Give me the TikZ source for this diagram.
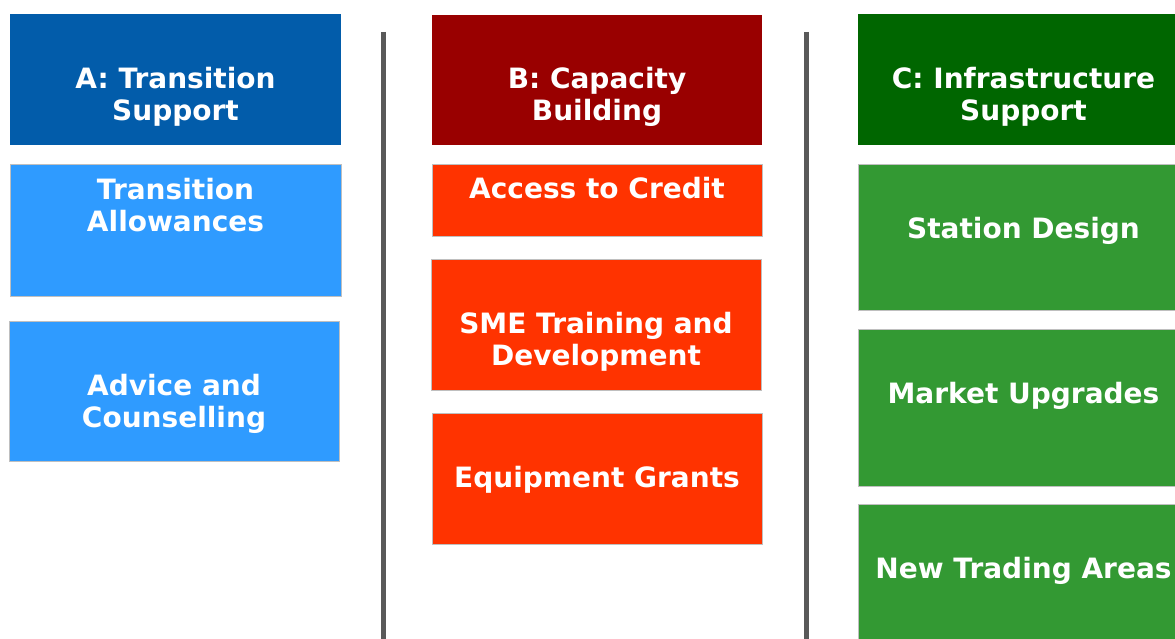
\documentclass[tikz,border=0pt]{standalone}
\usepackage{fontspec}
\setmainfont{DejaVu Sans}
\definecolor{hdrA}{HTML}{025CAA}
\definecolor{subA}{HTML}{2F9BFF}
\definecolor{hdrB}{HTML}{990000}
\definecolor{subB}{HTML}{FF3300}
\definecolor{hdrC}{HTML}{006600}
\definecolor{subC}{HTML}{339933}
\definecolor{divider}{HTML}{595959}
\tikzset{
  panel/.style={rectangle, anchor=north west, inner sep=0pt, outer sep=0pt},
  header/.style={panel},
  item/.style={panel, draw=black!25, line width=0.5pt},
  label/.style={text=white, align=center, inner sep=0pt,
    font=\bfseries\fontsize{28}{32}\selectfont},
  divline/.style={draw=divider, line width=5pt}
}
\begin{document}
\begin{tikzpicture}[x=1pt,y=-1pt]
\useasboundingbox (0,0) rectangle (1175,639);
\clip (0,0) rectangle (1175,639);

% column A: transition support
\node[header, fill=hdrA, minimum width=331pt, minimum height=131pt] (hA) at (10,14) {};
\node[item, fill=subA, minimum width=331pt, minimum height=132pt] (a1) at (10,164) {};
\node[item, fill=subA, minimum width=330pt, minimum height=140pt] (a2) at (9,321) {};
\node[label] (thA) at (175.5,96.5) {A: Transition\\Support};
\node[label] (ta1) at (175.5,204.8) {Transition\\Allowances};
\node[label] (ta2) at (174,403.5) {Advice and\\Counselling};

% column B: capacity building
\node[header, fill=hdrB, minimum width=330pt, minimum height=130pt] (hB) at (432,15) {};
\node[item, fill=subB, minimum width=330pt, minimum height=72pt] (b1) at (432,164) {};
\node[item, fill=subB, minimum width=330pt, minimum height=131pt] (b2) at (431,259) {};
\node[item, fill=subB, minimum width=330pt, minimum height=131pt] (b3) at (432,413) {};
\node[label] (thB) at (597,96.5) {B: Capacity\\Building};
\node[label, anchor=base] (tb1) at (597,199) {Access to Credit};
\node[label] (tb2) at (596,341.5) {SME Training and\\Development};
\node[label, anchor=base] (tb3) at (597,487) {Equipment Grants};

% column C: infrastructure support (runs past the right edge)
\node[header, fill=hdrC, minimum width=331pt, minimum height=131pt] (hC) at (858,14) {};
\node[item, fill=subC, minimum width=331pt, minimum height=146pt] (c1) at (858,164) {};
\node[item, fill=subC, minimum width=331pt, minimum height=157pt] (c2) at (858,329) {};
\node[item, fill=subC, minimum width=331pt, minimum height=140pt] (c3) at (858,504) {};
\node[label] (thC) at (1023.5,96.5) {C: Infrastructure\\Support};
\node[label, anchor=base] (tc1) at (1023.5,239) {Station Design};
\node[label, anchor=base] (tc2) at (1023.5,403) {Market Upgrades};
\node[label, anchor=base] (tc3) at (1023.5,578) {New Trading Areas};

% column dividers
\coordinate (d1top) at (383.5,32);
\coordinate (d1bot) at (383.5,639);
\coordinate (d2top) at (806.5,32);
\coordinate (d2bot) at (806.5,639);
\draw[divline] (d1top) -- (d1bot);
\draw[divline] (d2top) -- (d2bot);
\end{tikzpicture}
\end{document}
